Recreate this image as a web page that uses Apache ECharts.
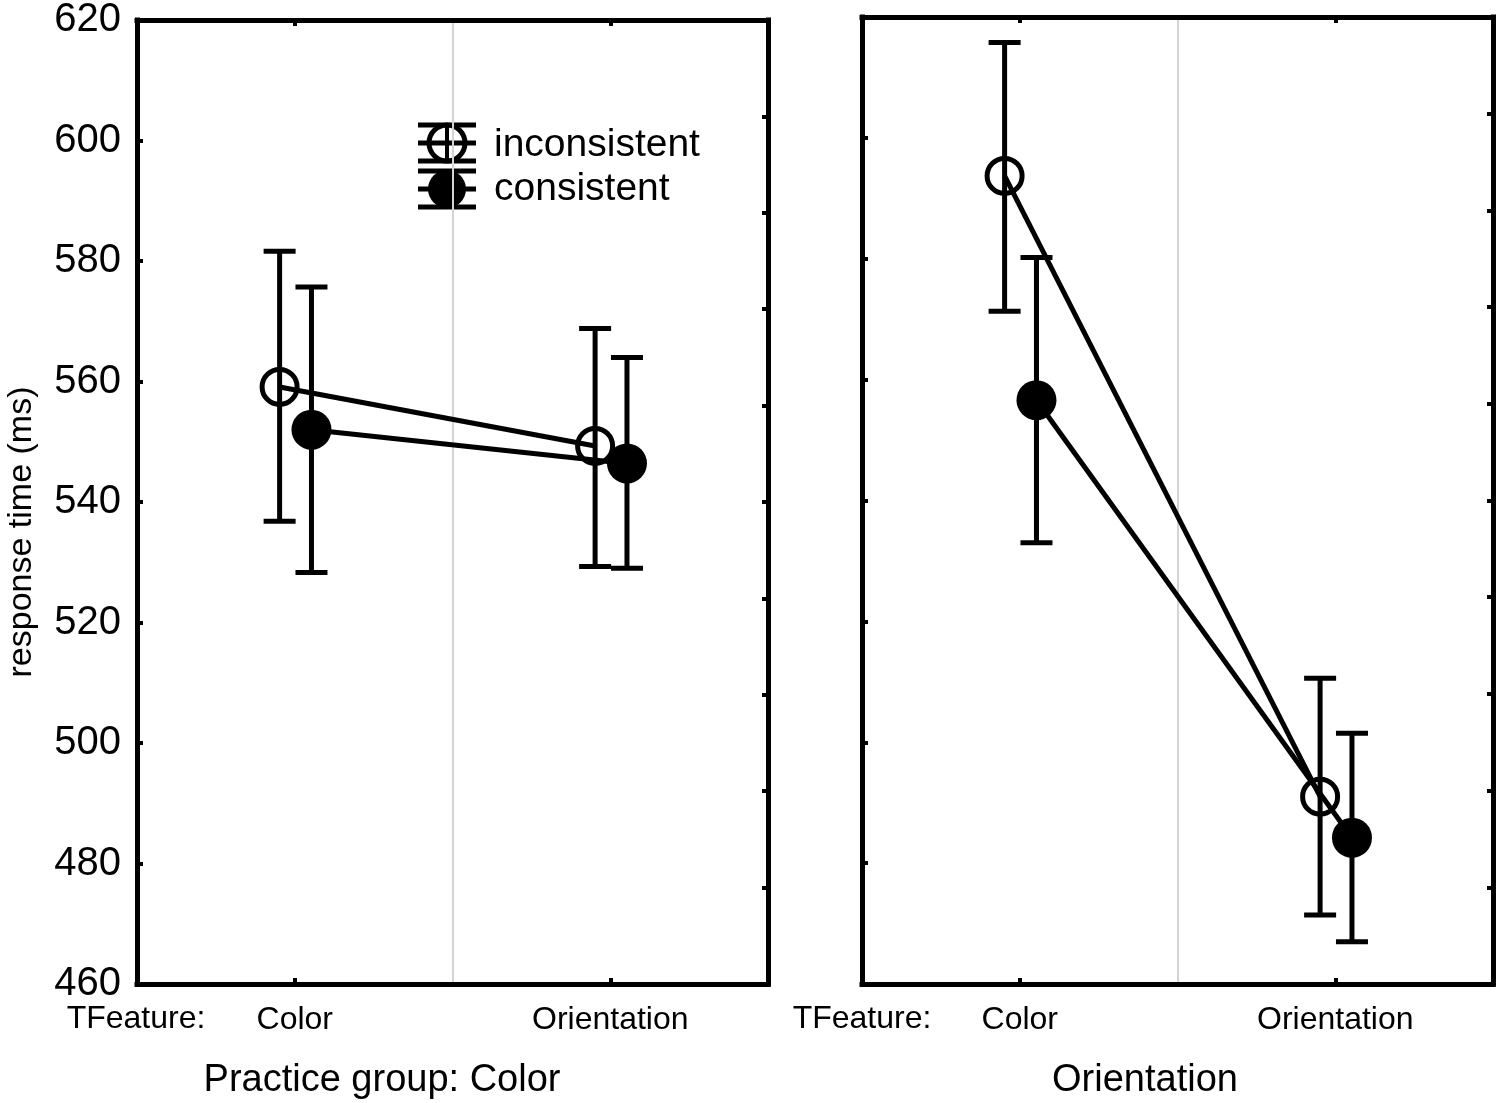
<!DOCTYPE html>
<html>
<head>
<meta charset="utf-8">
<script src="https://cdn.jsdelivr.net/npm/echarts@6/dist/echarts.min.js"></script>
<style>
html,body{margin:0;padding:0;background:#fff;}
#main{width:1498px;height:1103px;}
</style>
</head>
<body>
<div id="main"></div>
<script>
// ---- data ----
const categories = ['Color', 'Orientation'];
const panelTitles = ['Practice group: Color', 'Orientation'];
const seriesNames = ['inconsistent', 'consistent'];
const yTicks = [460, 480, 500, 520, 540, 560, 580, 600, 620];
// per panel: [Color, Orientation]
const inconsistentMean = [[559.1, 549.3], [593.7, 491.0]];
const inconsistentLow  = [[536.8, 529.3], [571.3, 471.4]];
const inconsistentHigh = [[581.6, 568.8], [615.8, 510.6]];
const consistentMean   = [[552.0, 546.4], [556.6, 484.2]];
const consistentLow    = [[528.3, 529.0], [533.0, 467.0]];
const consistentHigh   = [[575.7, 564.0], [580.2, 501.5]];

const FONT = '"Liberation Sans", Arial, sans-serif';
const offsets = [-0.048, 0.053];
const means = [inconsistentMean, consistentMean];
const lows = [inconsistentLow, consistentLow];
const highs = [inconsistentHigh, consistentHigh];

const grids = [
  {left: 137, top: 17, width: 631, height: 967},
  {left: 862, top: 17, width: 631, height: 967}
];

const axisLineStyle = {color: '#000', width: 5, cap: 'square'};
const tickStyle = {color: '#000', width: 4};

const xAxes = [], yAxes = [], series = [];
grids.forEach((g, p) => {
  // bottom category axis
  xAxes.push({
    type: 'category', gridIndex: p, data: categories, position: 'bottom',
    boundaryGap: true,
    axisLine: {show: true, lineStyle: axisLineStyle},
    axisTick: {show: true, inside: true, alignWithLabel: true, length: 6, lineStyle: tickStyle},
    axisLabel: {show: true, color: '#000', fontSize: 32, fontFamily: FONT, margin: 20},
    splitLine: {show: true, lineStyle: {color: '#d4d4d4', width: 2}}
  });
  // top category axis (frame)
  xAxes.push({
    type: 'category', gridIndex: p, data: categories, position: 'top',
    boundaryGap: true,
    axisLine: {show: true, lineStyle: axisLineStyle},
    axisTick: {show: true, inside: true, alignWithLabel: true, length: 6, lineStyle: tickStyle},
    axisLabel: {show: false}, splitLine: {show: false}
  });
  // hidden value axis for offset positions
  xAxes.push({type: 'value', gridIndex: p, min: 0, max: 2, show: false});
  // left value axis
  yAxes.push({
    type: 'value', gridIndex: p, min: 460, max: 620, interval: 20, position: 'left',
    axisLine: {show: true, lineStyle: axisLineStyle},
    axisTick: {show: true, inside: true, length: 6, lineStyle: tickStyle},
    axisLabel: {show: p === 0, color: '#000', fontSize: 40, fontFamily: FONT, margin: 16,
      formatter: v => yTicks.includes(v) ? String(v) : ''},
    splitLine: {show: false}
  });
  // right frame axis with 10 divisions
  yAxes.push({
    type: 'value', gridIndex: p, min: 0, max: 10, interval: 1, position: 'right',
    axisLine: {show: true, lineStyle: axisLineStyle},
    axisTick: {show: true, inside: true, length: 6, lineStyle: tickStyle},
    axisLabel: {show: false}, splitLine: {show: false}
  });

  const xIdx = p * 3 + 2, yIdx = p * 2;
  for (let s = 0; s < 2; s++) {
    const pts = categories.map((c, i) => [i + 0.5 + offsets[s], means[s][p][i]]);
    const errs = categories.map((c, i) => [i + 0.5 + offsets[s], lows[s][p][i], highs[s][p][i]]);
    series.push({
      type: 'custom', name: seriesNames[s] + ' err', xAxisIndex: xIdx, yAxisIndex: yIdx,
      data: errs, z: 2, silent: true,
      encode: {x: 0, y: [1, 2]},
      renderItem: (params, api) => {
        const x = api.value(0);
        const a = api.coord([x, api.value(1)]);
        const b = api.coord([x, api.value(2)]);
        const hw = 16;
        const st = {stroke: '#000', lineWidth: 5};
        return {type: 'group', children: [
          {type: 'line', shape: {x1: a[0], y1: a[1], x2: b[0], y2: b[1]}, style: st},
          {type: 'line', shape: {x1: a[0] - hw, y1: a[1], x2: a[0] + hw, y2: a[1]}, style: st},
          {type: 'line', shape: {x1: b[0] - hw, y1: b[1], x2: b[0] + hw, y2: b[1]}, style: st}
        ]};
      }
    });
    series.push({
      type: 'line', name: seriesNames[s], xAxisIndex: xIdx, yAxisIndex: yIdx,
      data: pts, symbol: 'none', z: 3, silent: true,
      lineStyle: {color: '#000', width: 5}
    });
    series.push({
      type: 'scatter', name: seriesNames[s] + ' mark', xAxisIndex: xIdx, yAxisIndex: yIdx,
      data: pts, z: 4, silent: true,
      symbol: 'circle', symbolSize: s === 0 ? 35 : 40,
      itemStyle: s === 0
        ? {color: 'rgba(0,0,0,0)', borderColor: '#000', borderWidth: 5, opacity: 1}
        : {color: '#000', borderWidth: 0, opacity: 1}
    });
  }
});

const textStyle = (txt, size) => ({text: txt, fill: '#000', fontSize: size, fontFamily: FONT});
const graphic = [
  {type: 'text', x: 22, y: 532, rotation: Math.PI / 2,
   style: Object.assign(textStyle('response time (ms)', 34), {align: 'center', verticalAlign: 'middle'})},
  {type: 'text', x: 136, y: 1019, style: Object.assign(textStyle('TFeature:', 32), {align: 'center', verticalAlign: 'middle'})},
  {type: 'text', x: 862, y: 1019, style: Object.assign(textStyle('TFeature:', 32), {align: 'center', verticalAlign: 'middle'})},
  {type: 'text', x: 382, y: 1081, style: Object.assign(textStyle(panelTitles[0], 38), {align: 'center', verticalAlign: 'middle'})},
  {type: 'text', x: 1145, y: 1081, style: Object.assign(textStyle(panelTitles[1], 38), {align: 'center', verticalAlign: 'middle'})},
  // legend
  {type: 'group', x: 447, y: 143, children: [
    {type: 'line', shape: {x1: -29, y1: -18, x2: 29, y2: -18}, style: {stroke: '#000', lineWidth: 5}},
    {type: 'line', shape: {x1: -29, y1: 0, x2: 29, y2: 0}, style: {stroke: '#000', lineWidth: 5}},
    {type: 'line', shape: {x1: -29, y1: 18, x2: 29, y2: 18}, style: {stroke: '#000', lineWidth: 5}},
    {type: 'line', shape: {x1: 0, y1: -18, x2: 0, y2: 18}, style: {stroke: '#000', lineWidth: 4}},
    {type: 'circle', shape: {cx: 0, cy: 0, r: 18}, style: {fill: 'none', stroke: '#000', lineWidth: 5}}
  ]},
  {type: 'group', x: 447, y: 189, children: [
    {type: 'line', shape: {x1: -29, y1: -18, x2: 29, y2: -18}, style: {stroke: '#000', lineWidth: 5}},
    {type: 'line', shape: {x1: -29, y1: 0, x2: 29, y2: 0}, style: {stroke: '#000', lineWidth: 5}},
    {type: 'line', shape: {x1: -29, y1: 18, x2: 29, y2: 18}, style: {stroke: '#000', lineWidth: 5}},
    {type: 'circle', shape: {cx: 0, cy: 0, r: 19}, style: {fill: '#000'}}
  ]},
  {type: 'text', x: 494, y: 145, style: Object.assign(textStyle(seriesNames[0], 39), {align: 'left', verticalAlign: 'middle'})},
  {type: 'text', x: 494, y: 189, style: Object.assign(textStyle(seriesNames[1], 39), {align: 'left', verticalAlign: 'middle'})}
];

const chart = echarts.init(document.getElementById('main'), null, {renderer: 'canvas'});
chart.setOption({
  animation: false,
  backgroundColor: '#fff',
  grid: grids,
  xAxis: xAxes,
  yAxis: yAxes,
  series: series,
  graphic: graphic
});
</script>
</body>
</html>
